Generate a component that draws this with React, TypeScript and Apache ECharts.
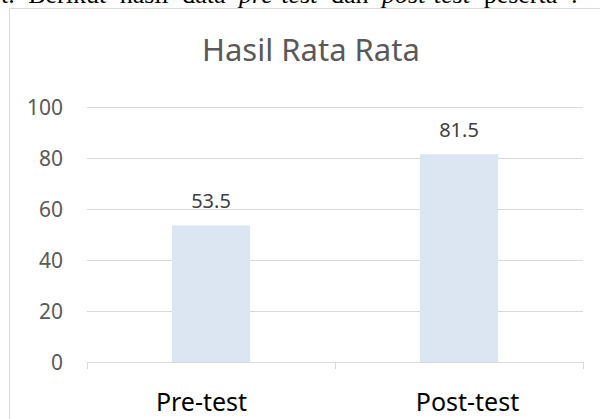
import React, { useEffect, useRef } from "react";
import * as echarts from "echarts";

const categories = ["Pre-test", "Post-test"];
const values = [53.5, 81.5];
const yMin = 0;
const yMax = 100;
const yInterval = 20;
const chartTitle = "Hasil Rata Rata";
const captionWords = [
  { t: "t.", s: "n" },
  { t: "Berikut", s: "n" },
  { t: "hasil", s: "n" },
  { t: "data", s: "n" },
  { t: "pre-test", s: "i" },
  { t: "dan", s: "n" },
  { t: "post-test", s: "i" },
  { t: "peserta", s: "n" },
  { t: ":", s: "n" },
];

const FONT = "'Noto Sans', 'Open Sans', sans-serif";
const SERIF = "'Liberation Serif', 'DejaVu Serif', serif";

export default function App() {
  const ref = useRef<HTMLDivElement>(null);
  useEffect(() => {
    if (!ref.current) return;
    const chart = echarts.init(ref.current, undefined, { renderer: "svg" });
    const caption = captionWords.map((p) => `{${p.s}|${p.t}}`).join("{sp| }");
    chart.setOption({
      animation: false,
      backgroundColor: "#ffffff",
      title: {
        text: chartTitle,
        left: 197,
        top: 28,
        padding: 5,
        textStyle: {
          fontFamily: FONT,
          fontSize: 31,
          fontWeight: "normal",
          color: "#595959",
        },
      },
      graphic: [
        {
          type: "rect",
          shape: { x: 9.5, y: 8.5, width: 700, height: 500 },
          style: { fill: "none", stroke: "#d9d9d9", lineWidth: 1 },
          silent: true,
          z: -1,
        },
        {
          type: "text",
          x: 578,
          y: -6,
          style: {
            text: caption,
            align: "right",
            verticalAlign: "middle",
            fontFamily: SERIF,
            fontSize: 26,
            fill: "#000000",
            rich: {
              n: { fontFamily: SERIF, fontSize: 26, lineHeight: 26, fill: "#000", fontStyle: "normal" },
              i: { fontFamily: SERIF, fontSize: 26, lineHeight: 26, fill: "#000", fontStyle: "italic" },
              sp: { fontFamily: SERIF, fontSize: 26, lineHeight: 26, width: 13.5 },
            },
          },
        },
      ],
      grid: { left: 87, right: 17, top: 107, bottom: 57, containLabel: false },
      xAxis: {
        type: "category",
        data: categories,
        axisLine: { show: true, lineStyle: { color: "#d9d9d9", width: 1 } },
        axisTick: { show: true, length: 7, lineStyle: { color: "#d9d9d9" } },
        axisLabel: {
          margin: 26,
          formatter: (v: string) => (v === categories[0] ? `{a|${v}}` : `{b|${v}}`),
          rich: {
            a: { fontFamily: FONT, fontSize: 25, color: "#000000", padding: [0, 19, 0, 0] },
            b: { fontFamily: FONT, fontSize: 25, color: "#000000", padding: [0, 0, 0, 17] },
          },
        },
      },
      yAxis: {
        type: "value",
        min: yMin,
        max: yMax,
        interval: yInterval,
        axisLine: { show: false },
        axisTick: { show: false },
        splitLine: { lineStyle: { color: "#d9d9d9", width: 1 } },
        axisLabel: {
          margin: 24,
          fontFamily: FONT,
          fontSize: 21,
          color: "#595959",
        },
      },
      series: [
        {
          type: "bar",
          data: values,
          barWidth: "31.5%",
          itemStyle: { color: "#dce6f2" },
          label: {
            show: true,
            position: "top",
            distance: 15,
            fontFamily: FONT,
            fontSize: 20,
            color: "#404040",
          },
        },
      ],
    });
    return () => chart.dispose();
  }, []);
  return (
    <div
      ref={ref}
      style={{ position: "fixed", left: 0, top: 0, width: 600, height: 419 }}
    />
  );
}
